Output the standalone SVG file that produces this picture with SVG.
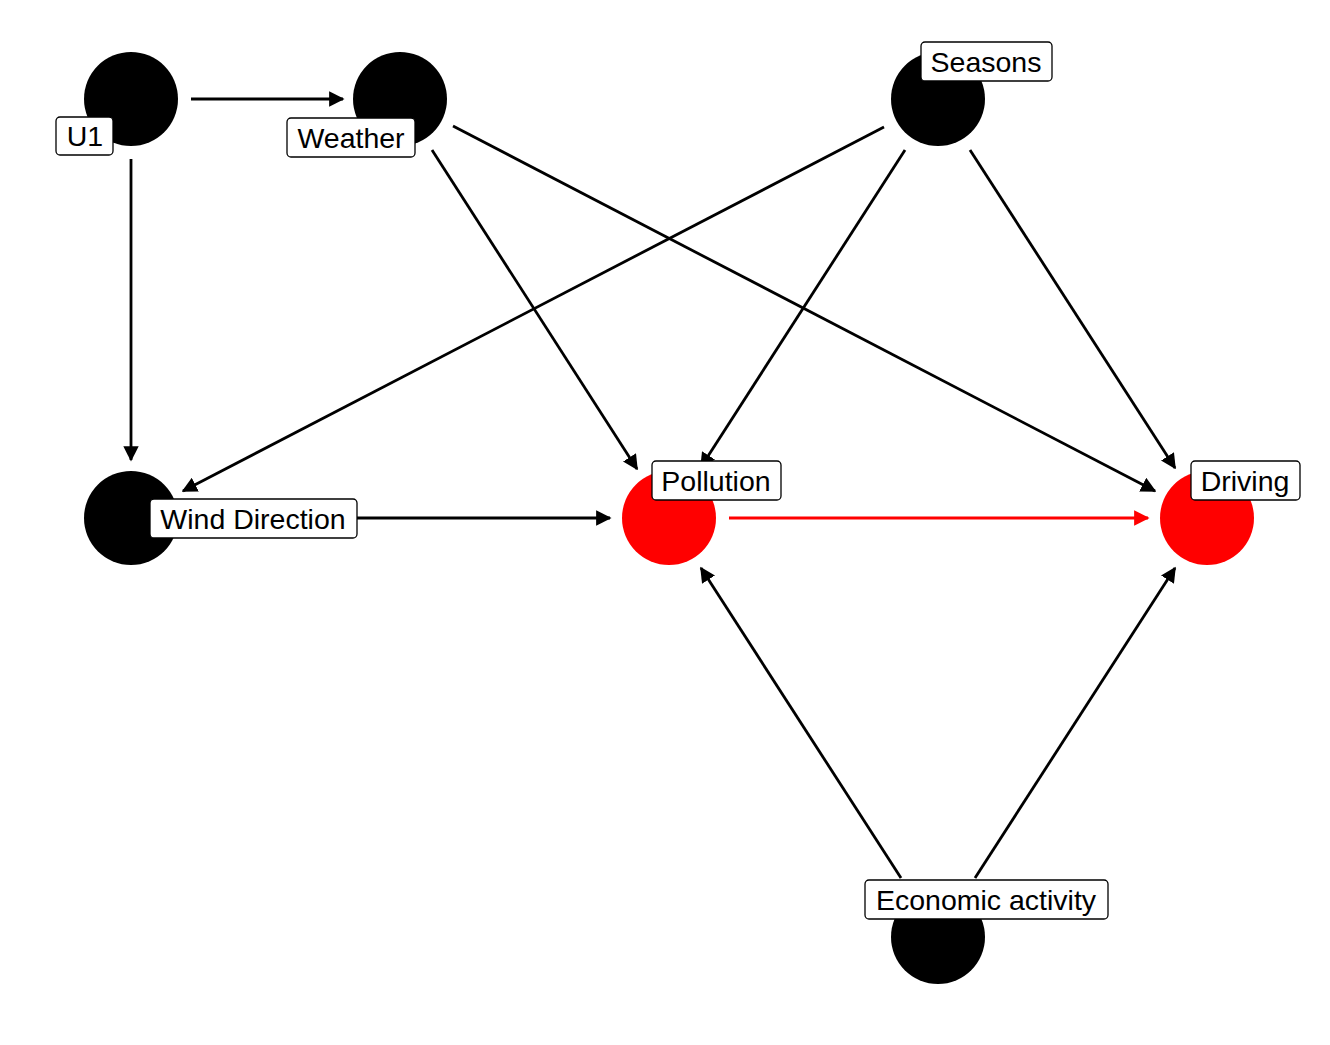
<svg xmlns="http://www.w3.org/2000/svg" width="1330" height="1045" viewBox="0 0 1330 1045">
<style>
.n{fill:#000}
.r{fill:#ff0000}
.e{stroke:#000;stroke-width:2.8;fill:none}
.er{stroke:#ff0000;stroke-width:2.8;fill:none}
.lb{fill:#fff;stroke:#000;stroke-width:1.3}
.t{font-family:"Liberation Sans",Arial,sans-serif;font-size:28.5px;fill:#000;text-anchor:middle;dominant-baseline:central}
</style>
<defs>
<marker id="a" viewBox="0 0 10 10" refX="9" refY="5" markerWidth="5.5" markerHeight="5.5" markerUnits="strokeWidth" orient="auto">
<path d="M0,0 L10,5 L0,10 z" fill="#000"/>
</marker>
<marker id="ar" viewBox="0 0 10 10" refX="9" refY="5" markerWidth="5.5" markerHeight="5.5" markerUnits="strokeWidth" orient="auto">
<path d="M0,0 L10,5 L0,10 z" fill="#ff0000"/>
</marker>
</defs>
<rect width="1330" height="1045" fill="#fff"/>
<g id="connectors">
<line class="e" x1="191" y1="99" x2="343" y2="99" marker-end="url(#a)"/>
<line class="e" x1="131" y1="159" x2="131" y2="460" marker-end="url(#a)"/>
<line class="e" x1="432" y1="150" x2="637" y2="469" marker-end="url(#a)"/>
<line class="e" x1="453" y1="126" x2="1155" y2="491" marker-end="url(#a)"/>
<line class="e" x1="884" y1="127" x2="183" y2="491" marker-end="url(#a)"/>
<line class="e" x1="905" y1="150" x2="701" y2="467" marker-end="url(#a)"/>
<line class="e" x1="970" y1="150" x2="1175" y2="468" marker-end="url(#a)"/>
<line class="e" x1="191" y1="518" x2="610" y2="518" marker-end="url(#a)"/>
<line class="er" x1="729" y1="518" x2="1148" y2="518" marker-end="url(#ar)"/>
<line class="e" x1="901" y1="878" x2="701" y2="568" marker-end="url(#a)"/>
<line class="e" x1="975" y1="878" x2="1175" y2="568" marker-end="url(#a)"/>
</g>
<g id="U1">
<circle class="n" cx="131" cy="99" r="47"/>
<rect class="lb" x="56" y="117" width="57" height="38" rx="4"/>
<text class="t" x="85" y="136">U1</text>
</g>
<g id="Weather">
<circle class="n" cx="400" cy="99" r="47"/>
<rect class="lb" x="287" y="118" width="128" height="39" rx="4"/>
<text class="t" x="351" y="138">Weather</text>
</g>
<g id="Seasons">
<circle class="n" cx="938" cy="99" r="47"/>
<rect class="lb" x="921" y="42" width="131" height="39" rx="4"/>
<text class="t" x="986" y="62">Seasons</text>
</g>
<g id="WindDirection">
<circle class="n" cx="131" cy="518" r="47"/>
<rect class="lb" x="150" y="499" width="207" height="39" rx="4"/>
<text class="t" x="253" y="519">Wind Direction</text>
</g>
<g id="Pollution">
<circle class="r" cx="669" cy="518" r="47"/>
<rect class="lb" x="652" y="461" width="129" height="39" rx="4"/>
<text class="t" x="716" y="481">Pollution</text>
</g>
<g id="Driving">
<circle class="r" cx="1207" cy="518" r="47"/>
<rect class="lb" x="1191" y="461" width="109" height="39" rx="4"/>
<text class="t" x="1245" y="481">Driving</text>
</g>
<g id="EconomicActivity">
<circle class="n" cx="938" cy="937" r="47"/>
<rect class="lb" x="865" y="880" width="243" height="39" rx="4"/>
<text class="t" x="986" y="900">Economic activity</text>
</g>
</svg>
